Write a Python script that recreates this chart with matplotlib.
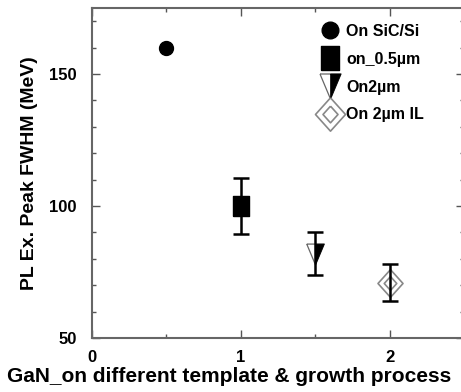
import numpy as np
import matplotlib
matplotlib.use('Agg')
import matplotlib.pyplot as plt
from matplotlib.ticker import MultipleLocator
from matplotlib.legend_handler import HandlerTuple

plt.rcParams['font.family'] = ['Liberation Sans', 'DejaVu Sans']
plt.rcParams['font.weight'] = 'bold'

# data
labels = ['On SiC/Si', 'on_0.5µm', 'On2µm', 'On 2µm IL']
x_pos = [0.5, 1.0, 1.5, 2.0]
fwhm = [160, 100, 82, 71]
err = [0, 10.5, 8.3, 7]

# marker shapes (taller than wide, like the original)
rect = [(-0.4, -0.5), (0.4, -0.5), (0.4, 0.5), (-0.4, 0.5), (-0.4, -0.5)]
tri = [(-0.42, 0.5), (0.42, 0.5), (0.0, -0.5), (-0.42, 0.5)]
tri_half = [(0.0, 0.5), (0.42, 0.5), (0.0, -0.5), (0.0, 0.5)]
diam = [(0, 0.5), (0.45, 0), (0, -0.5), (-0.45, 0), (0, 0.5)]

fig = plt.figure(figsize=(4.61, 3.92), dpi=100)
ax = fig.add_axes([92 / 461, 54 / 392, 372 / 461, 330 / 392])

# error bars (drawn over the markers)
ex = [x for x, e in zip(x_pos, err) if e > 0]
ey = [y for y, e in zip(fwhm, err) if e > 0]
ee = [e for e in err if e > 0]

h1, = ax.plot(x_pos[0], fwhm[0], 'o', ms=10, color='black', ls='none')
h2, = ax.plot(x_pos[1], fwhm[1], marker=rect, ms=14, color='black', ls='none')
h3a, = ax.plot(x_pos[2], fwhm[2], marker=tri, ms=15, ls='none',
               markerfacecolor='white', markeredgecolor='#666666', markeredgewidth=0.9)
h3b, = ax.plot(x_pos[2], fwhm[2], marker=tri_half, ms=15, ls='none',
               markerfacecolor='black', markeredgecolor='black', markeredgewidth=0.5)
h4a, = ax.plot(x_pos[3], fwhm[3], marker=diam, ms=20, ls='none',
               markerfacecolor='white', markeredgecolor='#888888', markeredgewidth=1.2)
h4b, = ax.plot(x_pos[3], fwhm[3], marker=diam, ms=10, ls='none',
               markerfacecolor='none', markeredgecolor='#888888', markeredgewidth=1.2)

ax.errorbar(ex, ey, yerr=ee, fmt='none', ecolor='black', elinewidth=1.8,
            capsize=5.5, capthick=1.8, zorder=5)

ax.set_xlim(0, 2.5)
ax.set_ylim(50, 175)
ax.xaxis.set_major_locator(MultipleLocator(1))
ax.xaxis.set_minor_locator(MultipleLocator(0.5))
ax.yaxis.set_major_locator(MultipleLocator(50))
ax.yaxis.set_minor_locator(MultipleLocator(10))
ax.tick_params(which='both', direction='in', top=True, right=True,
               color='#555555', labelsize=12)
ax.tick_params(axis='x', pad=9)
ax.tick_params(axis='y', pad=11)
ax.tick_params(which='major', length=6, width=1)
ax.tick_params(which='minor', length=3, width=1)
for lab in ax.get_xticklabels() + ax.get_yticklabels():
    lab.set_fontweight('bold')
for s in ax.spines.values():
    s.set_color('#666666')
    s.set_linewidth(1.5)

ax.set_xlabel('GaN_on different template & growth process', fontsize=15,
              fontweight='bold')
ax.xaxis.set_label_coords(0.368, -0.088)
ax.set_ylabel('PL Ex. Peak FWHM (MeV)', fontsize=14, fontweight='bold', labelpad=8)

ax.legend([h1, h2, (h3a, h3b), (h4a, h4b)], labels, loc='upper left',
          bbox_to_anchor=(0.58, 0.995), frameon=False,
          handlelength=1.0, handletextpad=0.5, labelspacing=0.8,
          markerscale=1.2, handler_map={tuple: HandlerTuple(ndivide=1)},
          prop={'weight': 'bold', 'size': 11.5})

plt.savefig('out.png', dpi=100)
